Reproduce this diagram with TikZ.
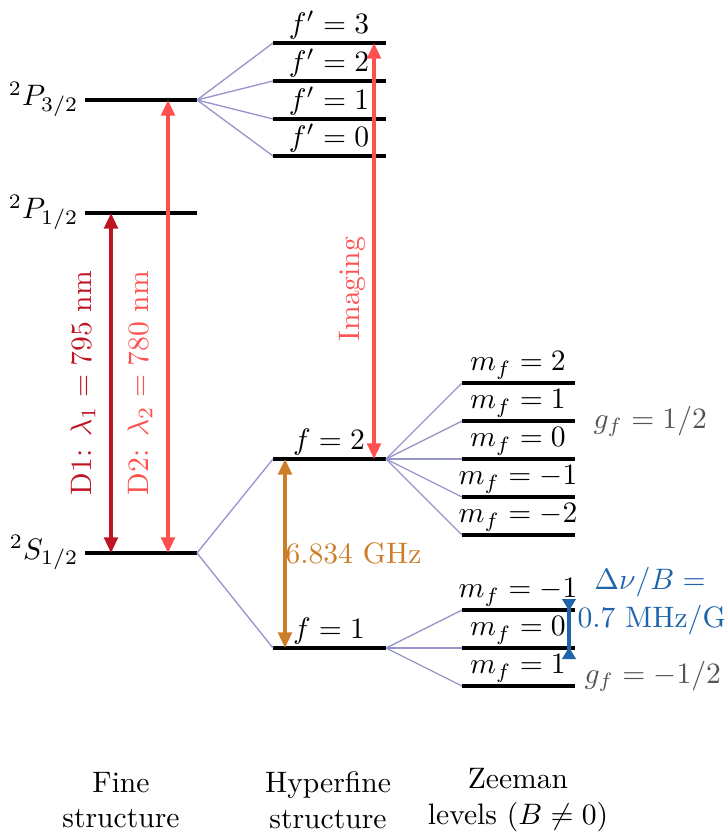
\documentclass[tikz,border=0pt]{standalone}
\usetikzlibrary{arrows.meta}
\definecolor{connc}{RGB}{150,150,205}
\definecolor{dred}{RGB}{190,20,35}
\definecolor{lred}{RGB}{255,80,80}
\definecolor{orng}{RGB}{205,125,40}
\definecolor{blu}{RGB}{30,100,170}
\definecolor{gry}{RGB}{85,85,85}
\begin{document}
\begin{tikzpicture}[x=0.338pt,y=-0.338pt,
  level/.style={line width=1.05pt},
  conn/.style={draw=connc, line width=0.45pt},
  dbl/.style={line width=1.2pt, {Triangle[length=5.3pt,width=4.6pt]}-{Triangle[length=5.3pt,width=4.6pt]}},
  lab/.style={anchor=south, inner sep=1pt},
  lft/.style={anchor=base east, inner sep=0pt},
  bot/.style={align=center, inner sep=0pt}]
\useasboundingbox (0,0) rectangle (724,832);

% fine structure
\foreach \n/\y in {P3/100, P1/213, S/553} {
  \coordinate (\n L) at (85,\y);
  \coordinate (\n R) at (197,\y);
  \draw[level] (\n L) -- (\n R);
}
\node[lft] (lP3) at (79,106) {$^2P_{3/2}$};
\node[lft] (lP1) at (79,219) {$^2P_{1/2}$};
\node[lft] (lS) at (79,559) {$^2S_{1/2}$};

% hyperfine excited
\foreach \n/\y/\t in {fp3/43/3, fp2/81/2, fp1/119/1, fp0/156/0} {
  \coordinate (\n L) at (273,\y);
  \coordinate (\n R) at (386,\y);
  \draw[level] (\n L) -- (\n R);
  \node[lab] (\n lab) at (329,\y) {$f'=\t$};
  \draw[conn] (P3R) -- (\n L);
}
% hyperfine ground
\foreach \n/\y/\t in {f2/459/2, f1/648/1} {
  \coordinate (\n L) at (273,\y);
  \coordinate (\n R) at (386,\y);
  \draw[level] (\n L) -- (\n R);
  \node[lab] (\n lab) at (329,\y) {$f=\t$};
  \draw[conn] (SR) -- (\n L);
}
% Zeeman f=2
\foreach \n/\y/\t in {za/383/2, zb/421/1, zc/459/0, zd/497/-1, ze/535/-2} {
  \coordinate (\n L) at (462,\y);
  \coordinate (\n R) at (575,\y);
  \draw[level] (\n L) -- (\n R);
  \node[lab] (\n lab) at (518,\y) {$m_f=\t$};
  \draw[conn] (f2R) -- (\n L);
}
% Zeeman f=1
\foreach \n/\y/\t in {zf/610/-1, zg/648/0, zh/686/1} {
  \coordinate (\n L) at (462,\y);
  \coordinate (\n R) at (575,\y);
  \draw[level] (\n L) -- (\n R);
  \node[lab] (\n lab) at (518,\y) {$m_f=\t$};
  \draw[conn] (f1R) -- (\n L);
}

% transitions
\coordinate (d1t) at (111,213); \coordinate (d1b) at (111,553);
\draw[dbl, draw=dred, fill=dred] (d1t) -- (d1b);
\node[rotate=90, text=dred] (d1lab) at (83,383) {D1: $\lambda_1=795$ nm};

\coordinate (d2t) at (168,100); \coordinate (d2b) at (168,553);
\draw[dbl, draw=lred, fill=lred] (d2t) -- (d2b);
\node[rotate=90, text=lred] (d2lab) at (140,383) {D2: $\lambda_2=780$ nm};

\coordinate (imt) at (374,43); \coordinate (imb) at (374,459);
\draw[dbl, draw=lred, fill=lred] (imt) -- (imb);
\node[rotate=90, text=lred] (imlab) at (352,289) {Imaging};

\coordinate (ght) at (285,459); \coordinate (ghb) at (285,648);
\draw[dbl, draw=orng, fill=orng] (ght) -- (ghb);
\node[anchor=west, inner sep=0pt, text=orng] (ghlab) at (285,553) {6.834 GHz};

\coordinate (bzt) at (569,599); \coordinate (bzb) at (569,659);
\draw[line width=1.2pt, draw=blu, fill=blu, {Triangle[length=4pt,width=4.5pt,reversed]}-{Triangle[length=4pt,width=4.5pt,reversed]}] (bzt) -- (bzb);
\node[text=blu, inner sep=0pt] (dnu) at (650,582) {$\Delta\nu/B=$};
\node[text=blu, anchor=west, inner sep=0pt] (mhz) at (577,620) {0.7 MHz/G};

\node[text=gry, anchor=base west, inner sep=0pt] (g2) at (593,428) {$g_f=1/2$};
\node[text=gry, anchor=base west, inner sep=0pt] (g1) at (584,683) {$g_f=-1/2$};

% column titles
\node[bot] (t1) at (121,800) {Fine\\structure};
\node[bot] (t2) at (328,800) {Hyperfine\\structure};
\node[bot] (t3) at (518,800) {Zeeman\\levels $(B\neq 0)$};
\end{tikzpicture}
\end{document}
